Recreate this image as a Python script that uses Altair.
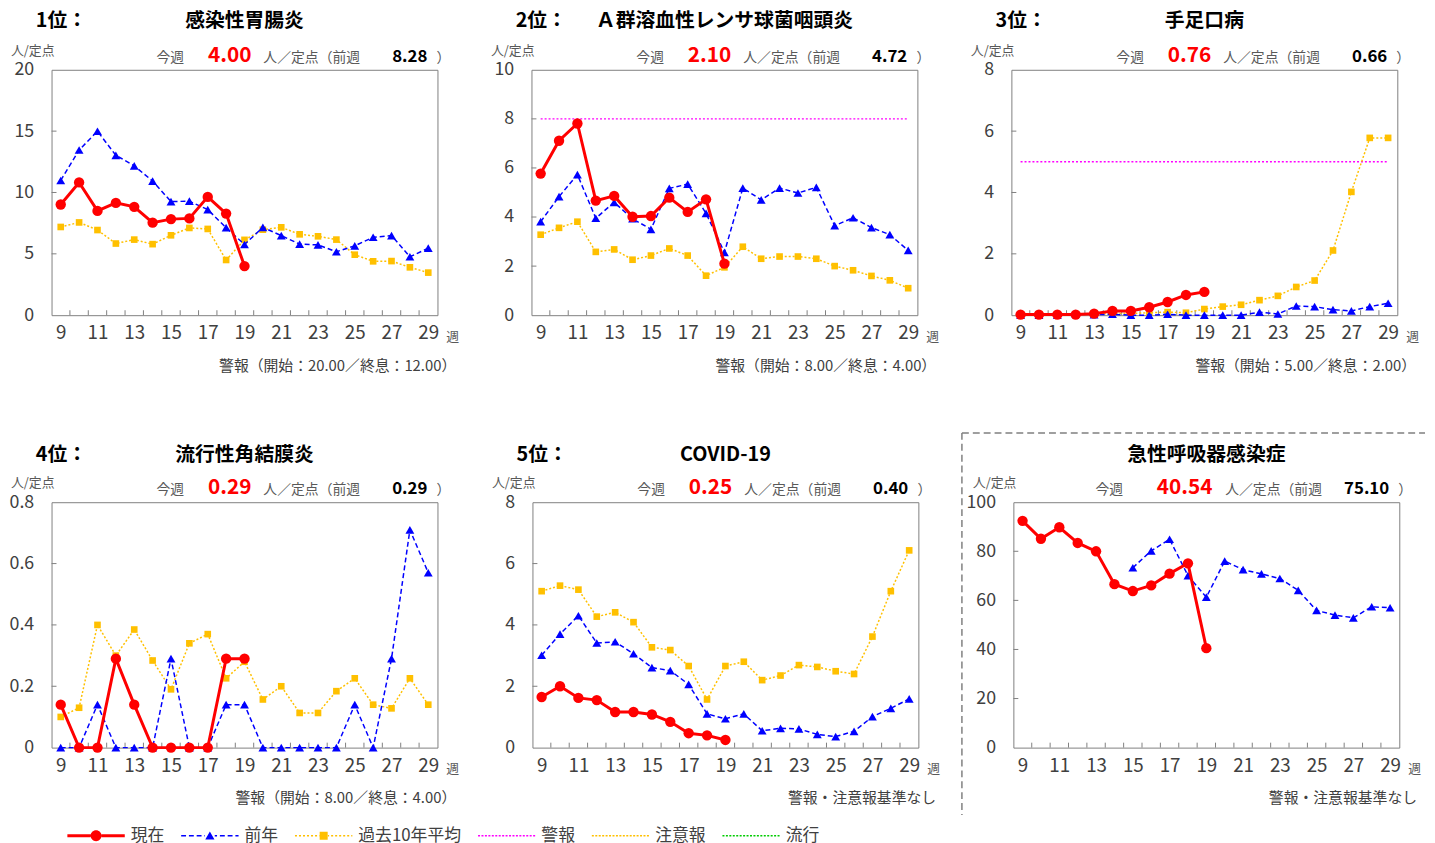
import altair as alt
import pandas as pd

# ---------------- data ----------------
weeks = list(range(9, 30))
cur_weeks = list(range(9, 20))
p6_prev_weeks = list(range(15, 30))
x_label_weeks = list(range(9, 30, 2))

ranks = ["1位：", "2位：", "3位：", "4位：", "5位：", ""]
names = ["感染性胃腸炎", "Ａ群溶血性レンサ球菌咽頭炎", "手足口病", "流行性角結膜炎", "COVID-19", "急性呼吸器感染症"]
this_week = ["4.00", "2.10", "0.76", "0.29", "0.25", "40.54"]
last_week = ["8.28", "4.72", "0.66", "0.29", "0.40", "75.10"]
footers = ["警報（開始：20.00／終息：12.00）", "警報（開始：8.00／終息：4.00）",
           "警報（開始：5.00／終息：2.00）", "警報（開始：8.00／終息：4.00）",
           "警報・注意報基準なし", "警報・注意報基準なし"]
y_max = [20, 10, 8, 0.8, 8, 100]
y_step = [5, 2, 2, 0.2, 2, 20]
y_fmt = ["d", "d", "d", "~g", "d", "d"]
warn_level = [None, 8, 5, None, None, None]

p1_cur = [9.02, 10.82, 8.50, 9.15, 8.83, 7.54, 7.83, 7.89, 9.64, 8.28, 4.00]
p1_prev = [10.98, 13.46, 14.99, 13.03, 12.17, 10.93, 9.26, 9.29, 8.61, 7.13, 5.76,
           7.16, 6.49, 5.79, 5.73, 5.17, 5.65, 6.35, 6.49, 4.76, 5.46]
p1_avg = [7.19, 7.56, 6.94, 5.84, 6.16, 5.79, 6.51, 7.11, 7.03, 4.50, 6.14,
          6.97, 7.16, 6.59, 6.43, 6.16, 4.93, 4.39, 4.41, 3.90, 3.47]

p2_cur = [5.77, 7.11, 7.81, 4.67, 4.86, 4.01, 4.04, 4.79, 4.21, 4.72, 2.10]
p2_prev = [3.81, 4.83, 5.73, 3.95, 4.60, 3.93, 3.50, 5.17, 5.34, 4.15, 2.56,
           5.18, 4.70, 5.18, 4.98, 5.21, 3.65, 3.97, 3.57, 3.28, 2.64]
p2_avg = [3.28, 3.56, 3.81, 2.58, 2.68, 2.26, 2.43, 2.72, 2.43, 1.61, 1.95,
          2.79, 2.30, 2.39, 2.39, 2.30, 2.00, 1.83, 1.60, 1.42, 1.10]

p3_cur = [0.02, 0.02, 0.02, 0.02, 0.05, 0.14, 0.14, 0.26, 0.43, 0.66, 0.76]
p3_prev = [0.00, 0.00, 0.00, 0.05, 0.02, 0.03, 0.00, 0.00, 0.03, 0.00, 0.00,
           0.00, 0.00, 0.10, 0.04, 0.30, 0.28, 0.18, 0.14, 0.28, 0.39]
p3_avg = [0.02, 0.02, 0.02, 0.03, 0.04, 0.05, 0.06, 0.08, 0.10, 0.08, 0.20,
          0.28, 0.34, 0.49, 0.63, 0.92, 1.13, 2.11, 4.02, 5.78, 5.78]

p4_cur = [0.14, 0.00, 0.00, 0.29, 0.14, 0.00, 0.00, 0.00, 0.00, 0.29, 0.29]
p4_prev = [0.00, 0.00, 0.14, 0.00, 0.00, 0.00, 0.29, 0.00, 0.00, 0.14, 0.14,
           0.00, 0.00, 0.00, 0.00, 0.00, 0.14, 0.00, 0.29, 0.71, 0.57]
p4_avg = [0.10, 0.13, 0.40, 0.30, 0.385, 0.284, 0.19, 0.34, 0.37, 0.226, 0.28,
          0.157, 0.20, 0.113, 0.113, 0.184, 0.226, 0.14, 0.128, 0.226, 0.14]

p5_cur = [1.65, 2.00, 1.62, 1.55, 1.16, 1.16, 1.08, 0.84, 0.47, 0.40, 0.25]
p5_prev = [3.01, 3.70, 4.30, 3.41, 3.45, 3.06, 2.61, 2.51, 2.06, 1.10, 0.94,
           1.10, 0.55, 0.63, 0.61, 0.43, 0.36, 0.53, 1.01, 1.28, 1.59]
p5_avg = [5.10, 5.28, 5.15, 4.27, 4.41, 4.09, 3.27, 3.18, 2.66, 1.57, 2.66,
          2.80, 2.20, 2.35, 2.69, 2.63, 2.49, 2.40, 3.62, 5.10, 6.43]

p6_cur = [92.4, 85.1, 89.8, 83.4, 80.0, 66.6, 63.8, 66.1, 70.9, 75.10, 40.54]
p6_prev = [73.3, 80.2, 84.9, 70.1, 61.3, 76.0, 72.5, 70.8, 68.9, 64.1, 55.9,
           54.0, 52.9, 57.4, 57.0]

legend_names = ["現在", "前年", "過去10年平均", "警報", "注意報", "流行"]

# ---------------- styling ----------------
FONT = "Noto Sans CJK JP"
W, H = 390, 248
RED, BLUE, YEL, MAG, ORG, GRN = "#FF0000", "#0000FF", "#FFC000", "#FF00FF", "#FFC000", "#00CC00"
GRAY = "#595959"
DARK = "#404040"
FRAME = "#808080"


def X():
    return alt.X("week:Q", scale=alt.Scale(domain=[8.5, 29.5], nice=False, zero=False),
                 axis=alt.Axis(values=x_label_weeks, format="d", ticks=False, domain=False,
                               grid=False, labelFontSize=19, labelColor=DARK, labelPadding=9,
                               labelFlush=False, title=None, labelFont=FONT))


def Y(i):
    ymax, step = y_max[i], y_step[i]
    n = int(round(ymax / step))
    vals = [round(k * step, 6) for k in range(n + 1)]
    return alt.Y("value:Q", scale=alt.Scale(domain=[0, ymax], nice=False, zero=True),
                 axis=alt.Axis(values=vals, format=y_fmt[i], ticks=False, domain=False, grid=False,
                               labelFontSize=18, labelColor=DARK, labelPadding=18,
                               labelFlush=False, title=None, labelFont=FONT)), vals


def txt(s, x, y, size, color="#000000", weight="normal", align="left", baseline="middle"):
    return alt.Chart(pd.DataFrame({"t": [s]})).mark_text(
        align=align, baseline=baseline, fontSize=size, fontWeight=weight, color=color, font=FONT
    ).encode(x=alt.value(x), y=alt.value(y), text="t:N")


def series(ws, vs, xe, ye, color, width, dash, shape, size):
    df = pd.DataFrame({"week": ws, "value": vs})
    lk = dict(color=color, strokeWidth=width)
    if dash:
        lk["strokeDash"] = dash
    line = alt.Chart(df).mark_line(**lk).encode(x=xe, y=ye)
    pts = alt.Chart(df).mark_point(filled=True, shape=shape, size=size, color=color,
                                   opacity=1).encode(x=xe, y=ye)
    return [line, pts]


# legend symbol paths (unit box -1..1, 1 unit = 29px)
def hbar(x0, x1, h):
    return f"M{x0:.3f},{-h:.3f}L{x1:.3f},{-h:.3f}L{x1:.3f},{h:.3f}L{x0:.3f},{h:.3f}Z"


def dashed(h, d, g, gap_lo=None, gap_hi=None):
    out = []
    x = -1.0
    while x < 1.0:
        x1 = min(x + d, 1.0)
        if gap_lo is not None and not (x1 <= gap_lo or x >= gap_hi):
            if x < gap_lo:
                out.append(hbar(x, gap_lo, h))
            if x1 > gap_hi:
                out.append(hbar(gap_hi, x1, h))
        else:
            out.append(hbar(x, x1, h))
        x += d + g
    return "".join(out)


CIRCLE = "M0.19,0A0.19,0.19 0 1,1 -0.19,0A0.19,0.19 0 1,1 0.19,0Z"
TRI = "M0,-0.15L0.16,0.13L-0.16,0.13Z"
SQ = "M-0.14,-0.14L0.14,-0.14L0.14,0.14L-0.14,0.14Z"
legend_paths = [
    hbar(-1, -0.19, 0.05) + hbar(0.19, 1, 0.05) + CIRCLE,
    dashed(0.027, 0.17, 0.1, -0.17, 0.17) + TRI,
    dashed(0.027, 0.07, 0.07, -0.15, 0.15) + SQ,
    dashed(0.025, 0.07, 0.05),
    dashed(0.025, 0.07, 0.05),
    dashed(0.025, 0.07, 0.05),
]
legend_colors = [RED, BLUE, YEL, MAG, ORG, GRN]

head_x_default = [120, 180, 214, 362]
head_x_p6 = [97, 173, 214, 357]


def panel(i, cur, prev, avg, prev_ws=None, with_legend=False, title_y=-50, border=False):
    xe = X()
    ye, vals = Y(i)
    layers = []
    # inward ticks
    layers.append(alt.Chart(pd.DataFrame({"week": [w + 0.5 for w in weeks[:-1]]}))
                  .mark_rule(color=FRAME, strokeWidth=1)
                  .encode(x=xe, y=alt.value(H), y2=alt.value(H - 5)))
    layers.append(alt.Chart(pd.DataFrame({"value": vals[1:-1]}))
                  .mark_rule(color=FRAME, strokeWidth=1)
                  .encode(y=ye, x=alt.value(0), x2=alt.value(5)))
    if warn_level[i] is not None:
        layers.append(alt.Chart(pd.DataFrame({"week": [weeks[0]], "week2": [weeks[-1]],
                                              "value": [warn_level[i]]}))
                      .mark_rule(color=MAG, strokeDash=[2, 2], strokeWidth=1.5)
                      .encode(x=xe, x2="week2:Q", y=ye))
    if avg is not None:
        layers += series(weeks, avg, xe, ye, YEL, 1.5, [2, 2], "square", 45)
    layers += series(prev_ws or weeks, prev, xe, ye, BLUE, 1.5, [5, 3], "triangle-up", 80)
    layers += series(cur_weeks, cur, xe, ye, RED, 3, None, "circle", 110)

    if with_legend:
        leg_df = pd.DataFrame({"series": legend_names, "week": [None] * 6, "value": [None] * 6})
        lg = alt.Legend(orient="none", legendX=16, legendY=745, direction="horizontal",
                        title=None, labelFontSize=17, labelFont=FONT, labelColor=DARK,
                        symbolSize=3364, symbolStrokeWidth=0, labelOffset=6,
                        columnPadding=17, symbolOpacity=1)
        layers.append(alt.Chart(leg_df).mark_point(filled=True, opacity=1).encode(
            x=xe, y=ye,
            color=alt.Color("series:N", scale=alt.Scale(domain=legend_names, range=legend_colors), legend=lg),
            shape=alt.Shape("series:N", scale=alt.Scale(domain=legend_names, range=legend_paths), legend=lg),
        ))

    if border:
        bdf = pd.DataFrame({"a": [0]})
        layers.append(alt.Chart(bdf).mark_rule(color=FRAME, strokeDash=[7, 4], strokeWidth=1.5)
                      .encode(x=alt.value(-52), x2=alt.value(W + 26), y=alt.value(-70)))
        layers.append(alt.Chart(bdf).mark_rule(color=FRAME, strokeDash=[7, 4], strokeWidth=1.5)
                      .encode(x=alt.value(-52), y=alt.value(-70), y2=alt.value(H + 68)))

    # texts
    hx = head_x_p6 if i == 5 else head_x_default
    if ranks[i]:
        layers.append(txt(ranks[i], -16, title_y, 20, weight="bold"))
    layers.append(txt(names[i], W / 2, title_y, 20, weight="bold", align="center"))
    layers.append(txt("人/定点", -41, -19, 13, color=GRAY))
    layers.append(txt("今週", hx[0], -8, 14, color=GRAY, align="center", baseline="alphabetic"))
    layers.append(txt(this_week[i], hx[1], -8, 21, color=RED, weight="bold", align="center",
                      baseline="alphabetic"))
    layers.append(txt("人／定点（前週", hx[2], -8, 14, color=GRAY, baseline="alphabetic"))
    layers.append(txt(last_week[i], hx[3], -8, 17, weight="bold", align="center",
                      baseline="alphabetic"))
    layers.append(txt("）", 396, -8, 14, color=GRAY, align="center", baseline="alphabetic"))
    layers.append(txt("週", 399, H + 22, 13, color=GRAY))
    fx = 409 if "開始" in footers[i] else 408
    layers.append(txt(footers[i], fx, H + 51, 15, color=DARK, align="right"))

    return alt.layer(*layers).properties(width=W, height=H)


c1 = panel(0, p1_cur, p1_prev, p1_avg, title_y=-49)
c2 = panel(1, p2_cur, p2_prev, p2_avg, title_y=-49)
c3 = panel(2, p3_cur, p3_prev, p3_avg, title_y=-49)
c4 = panel(3, p4_cur, p4_prev, p4_avg, with_legend=True, title_y=-48)
c5 = panel(4, p5_cur, p5_prev, p5_avg, title_y=-48)
c6 = panel(5, p6_cur, p6_prev, None, prev_ws=p6_prev_weeks, title_y=-48, border=True)

row1 = alt.hconcat(c1, c2, c3, spacing=95, bounds="flush")
row2 = alt.hconcat(c4, c5, c6, spacing=96, bounds="flush")
chart = alt.vconcat(row1, row2, spacing=57).properties(
    padding={"left": 0, "top": -2, "right": 0, "bottom": 0}).configure_view(
    stroke=FRAME, strokeWidth=1).configure_axis(labelFont=FONT)

chart.save("out.html", embed_options={"renderer": "svg", "actions": False})
